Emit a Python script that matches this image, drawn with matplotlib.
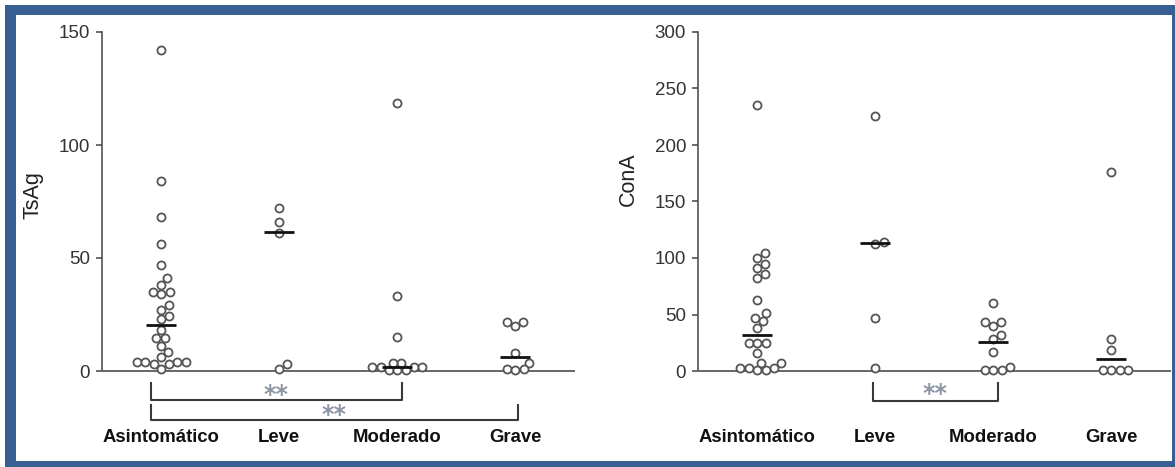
"""Streudiagramme TsAg / ConA nach Schweregrad (Beeswarm mit Median)."""
import numpy as np
import matplotlib
matplotlib.use("Agg")
import matplotlib.pyplot as plt
from matplotlib.patches import Rectangle

plt.rcParams["font.family"] = ["Liberation Sans", "DejaVu Sans"]

# Daten
categories = ["Asintomático", "Leve", "Moderado", "Grave"]

tsag_asintomatico = [142, 84, 68, 56, 47, 41, 38, 35, 35, 34, 29, 27, 24.5, 23,
                     18, 14.5, 14.5, 11, 8.5, 6, 4, 4, 4, 4, 3, 3, 1]
tsag_leve = [72, 66, 61, 3, 1]
tsag_moderado = [118.5, 33, 15, 3.7, 3.7, 1.6, 1.6, 1.6, 1.6, 0.3, 0.3, 0.3]
tsag_grave = [21.5, 21.5, 20, 7.8, 3.7, 0.8, 0.8, 0.5]
tsag_median = [20.4, 61.6, 1.9, 6.3]

cona_asintomatico = [235, 104, 100, 95, 91, 86, 82, 63, 51, 47, 44, 38, 25, 25,
                     25, 16, 7.5, 7.5, 3, 3, 3, 0.5, 0.5]
cona_leve = [226, 114.5, 112, 47, 3]
cona_moderado = [60, 43, 43, 40, 32, 28, 17, 3.2, 0.5, 0.5, 0.5]
cona_grave = [176, 28, 18.6, 1, 1, 1, 1]
cona_median = [31.9, 113, 25.4, 10.3]

# Signifikanz-Klammern: (Gruppe a, Gruppe b, Label)
tsag_signif = [(0, 2, "**"), (0, 3, "**")]
cona_signif = [(1, 2, "**")]

BLUE = "#375f91"
FIG_W, FIG_H = 1175, 467
PX_PER_CAT = 118.0
DOT_PX = 8.5


def swarm_offsets(values, px_per_unit):
    """Einfacher Beeswarm: horizontale Versätze in Kategorie-Einheiten."""
    values = np.asarray(values, dtype=float)
    order = np.argsort(values)
    placed = []
    offsets = np.zeros(len(values))
    for i in order:
        y = values[i] * px_per_unit
        step = 0
        while True:
            k = (step + 1) // 2
            x = k * 0.5 * (1 if step % 2 else -1)
            if all((x - xp) ** 2 + (y - yp) ** 2 >= DOT_PX ** 2 for xp, yp in placed):
                break
            step += 1
        placed.append((x, y))
        offsets[i] = x / PX_PER_CAT
    return offsets


def draw_panel(ax, groups, medians, ymax, ylabel, label_y, signif, levels):
    px_per_unit = 339.0 / ymax
    for pos, (vals, med) in enumerate(zip(groups, medians), start=1):
        xs = pos + swarm_offsets(vals, px_per_unit)
        ax.plot(xs, vals, "o", ms=5.8, mfc="white", mec="#555555", mew=1.3,
                clip_on=False, zorder=3)
        ax.plot([pos - 0.127, pos + 0.127], [med, med], color="#111111",
                lw=2.0, solid_capstyle="butt", clip_on=False, zorder=4)

    ax.set_xlim(0.5, 4.5)
    ax.set_ylim(0, ymax)
    ax.set_yticks(np.arange(0, ymax + 1, 50))
    ax.set_xticks(range(1, 5))
    ax.set_xticklabels(categories, fontweight="bold", fontsize=13.3, color="#111111")
    ax.tick_params(axis="x", length=0, pad=42)
    ax.tick_params(axis="y", length=4.5, width=1.1, color="#444444",
                   labelsize=13.5, labelcolor="#333333", pad=4)
    for side in ("top", "right"):
        ax.spines[side].set_visible(False)
    ax.spines["left"].set_color("#444444")
    ax.spines["left"].set_linewidth(1.1)
    ax.spines["bottom"].set_color("#666666")
    ax.spines["bottom"].set_linewidth(1.4)
    ax.set_ylabel(ylabel, fontsize=15.5, color="#222222")
    ax.yaxis.set_label_coords(-0.125, label_y)

    # Klammern unter der Achse
    for (a, b, label), (x0, x1, ytop, ybot, ystar) in zip(signif, levels):
        xa, xb = a + 1 + x0, b + 1 + x1
        ytop_v, ybot_v = ytop * ymax, ybot * ymax
        ax.plot([xa, xa, xb, xb], [ytop_v, ybot_v, ybot_v, ytop_v],
                color="#3a3a3a", lw=1.5, clip_on=False)
        ax.text((xa + xb) / 2, ystar * ymax, label, ha="center", va="center",
                fontsize=17, fontweight="bold", color="#8d96a4", family="DejaVu Sans")


def main():
    fig = plt.figure(figsize=(FIG_W / 100, FIG_H / 100), dpi=100)
    fig.patch.set_facecolor("white")

    # Achsenpositionen in Pixeln
    bottom = (FIG_H - 371) / FIG_H
    height = 339 / FIG_H
    width = 472 / FIG_W
    ax1 = fig.add_axes([102 / FIG_W, bottom, width, height])
    ax2 = fig.add_axes([698 / FIG_W, bottom, width, height])

    draw_panel(ax1, [tsag_asintomatico, tsag_leve, tsag_moderado, tsag_grave],
               tsag_median, 150, "TsAg", 0.52, tsag_signif,
               [(-0.085, 0.04, -0.035, -0.085, -0.071),
                (-0.085, 0.025, -0.1, -0.145, -0.131)])
    draw_panel(ax2, [cona_asintomatico, cona_leve, cona_moderado, cona_grave],
               cona_median, 300, "ConA", 0.565, cona_signif,
               [(-0.017, 0.04, -0.035, -0.088, -0.068)])

    # Blauer Rahmen
    def band(x, y, w, h):
        fig.add_artist(Rectangle((x / FIG_W, 1 - (y + h) / FIG_H), w / FIG_W, h / FIG_H,
                                 transform=fig.transFigure, facecolor=BLUE,
                                 edgecolor="none", zorder=10))

    band(5, 5, FIG_W - 5, 10)
    band(5, 5, 11, FIG_H - 5)
    band(5, 461, FIG_W - 5, 6)
    band(1172, 5, 3, FIG_H - 5)

    fig.savefig("out.png", dpi=100, facecolor="white")
    plt.close(fig)


if __name__ == "__main__":
    main()
